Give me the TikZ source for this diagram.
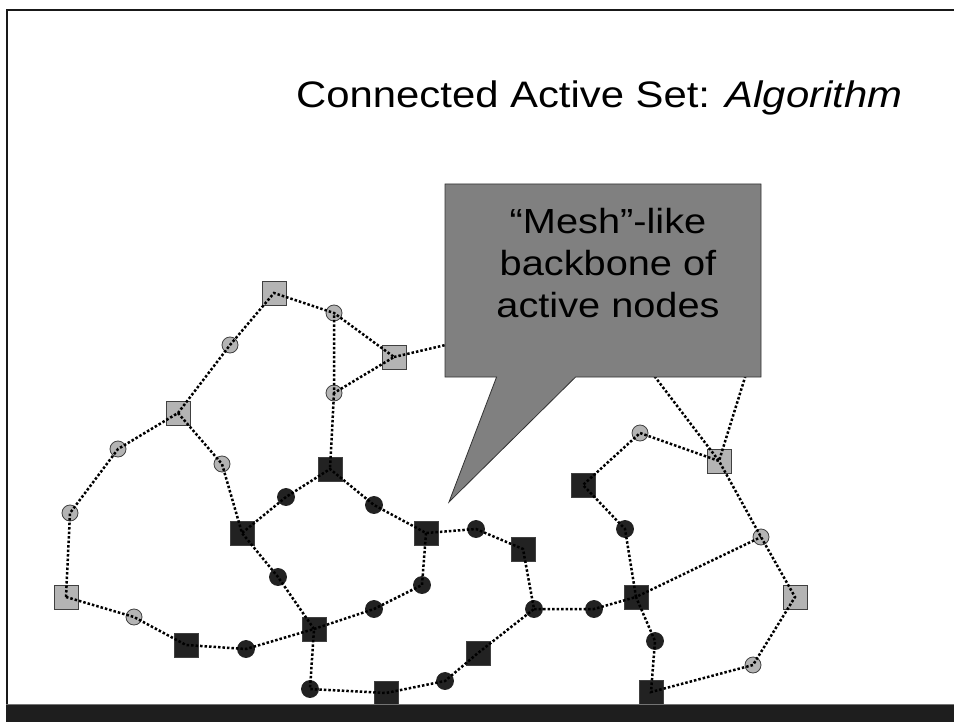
\documentclass[tikz,border=0pt]{standalone}
\usepackage{graphicx}
\usepackage{fontspec}
\setmainfont{Liberation Sans}
\usetikzlibrary{shapes.callouts}
\definecolor{passiveGray}{HTML}{B4B4B4}
\definecolor{activeDark}{HTML}{222222}
\definecolor{calloutGray}{HTML}{808080}
\definecolor{barDark}{HTML}{1E1E1E}
\newcommand{\stretchtext}[2][1.14]{\scalebox{#1}[1]{#2}}

\begin{document}
\begin{tikzpicture}[
    x=1bp, y=-1bp,
    passq/.style={rectangle, draw=black!75, line width=0.8bp, fill=passiveGray,
                  minimum size=24bp, inner sep=0pt},
    passc/.style={circle, draw=black!75, line width=0.8bp, fill=passiveGray,
                  minimum size=16bp, inner sep=0pt},
    actq/.style={rectangle, draw=black!75, line width=0.8bp, fill=activeDark,
                 minimum size=24bp, inner sep=0pt},
    actc/.style={circle, draw=activeDark, line width=0.8bp, fill=activeDark,
                 minimum size=17bp, inner sep=0pt},
    link/.style={draw=black, line width=2.5bp, dash pattern=on 2.5bp off 2bp},
    bigtext/.style={font=\fontsize{35}{42}\selectfont},
  ]
    \useasboundingbox (0,0) rectangle (954,722);

    % frame of the slide
    \draw[line width=2.5bp, black!90] (7,722) -- (7,10) -- (954,10);

    \node[anchor=base west, inner sep=0pt, font=\fontsize{37}{40}\selectfont]
      (title) at (296,108)
      {\stretchtext[1.135]{Connected Active Set: \textit{Algorithm}}};

    % passive nodes
    \node[passq] (pq1) at (274,293) {};
    \node[passq] (pq2) at (394,357) {};
    \node[passq] (pq3) at (178,413) {};
    \node[passq] (pq4) at (66,597) {};
    \node[passq] (pq5) at (719,461) {};
    \node[passq] (pq6) at (795,597) {};
    \node[passc] (pc1) at (334,313) {};
    \node[passc] (pc2) at (230,345) {};
    \node[passc] (pc3) at (334,393) {};
    \node[passc] (pc4) at (118,449) {};
    \node[passc] (pc5) at (222,464) {};
    \node[passc] (pc6) at (70,513) {};
    \node[passc] (pc7) at (134,617) {};
    \node[passc] (pc8) at (640,433) {};
    \node[passc] (pc9) at (761,537) {};
    \node[passc] (pc10) at (753,665) {};

    % active nodes
    \node[actq] (aq1) at (330,469) {};
    \node[actq] (aq2) at (242,533) {};
    \node[actq] (aq3) at (426,533) {};
    \node[actq] (aq4) at (314,629) {};
    \node[actq] (aq5) at (186,645) {};
    \node[actq] (aq6) at (386,693) {};
    \node[actq] (aq7) at (523,549) {};
    \node[actq] (aq8) at (636,597) {};
    \node[actq] (aq9) at (478,653) {};
    \node[actq] (aq10) at (583,485) {};
    \node[actq] (aq11) at (651,692) {};
    \node[actc] (ac1) at (286,497) {};
    \node[actc] (ac2) at (374,505) {};
    \node[actc] (ac3) at (476,529) {};
    \node[actc] (ac4) at (278,577) {};
    \node[actc] (ac5) at (422,585) {};
    \node[actc] (ac6) at (374,609) {};
    \node[actc] (ac7) at (246,649) {};
    \node[actc] (ac8) at (310,689) {};
    \node[actc] (ac9) at (445,681) {};
    \node[actc] (ac10) at (534,609) {};
    \node[actc] (ac11) at (594,609) {};
    \node[actc] (ac12) at (625,529) {};
    \node[actc] (ac13) at (655,641) {};

    % ends hidden behind the callout
    \coordinate (h1) at (540,323);
    \coordinate (h2) at (630,344);
    \coordinate (h3) at (756,342);

    \draw[link] (pq4.center) -- (pc6.center) -- (pc4.center) -- (pq3.center)
      -- (pc2.center) -- (pq1.center) -- (pc1.center) -- (pq2.center)
      -- (pc3.center) -- (pc1.center);
    \draw[link] (pq2.center) -- (h1);
    \draw[link] (pc3.center) -- (aq1.center);
    \draw[link] (pq3.center) -- (pc5.center) -- (aq2.center) -- (ac1.center)
      -- (aq1.center) -- (ac2.center) -- (aq3.center) -- (ac3.center)
      -- (aq7.center) -- (ac10.center) -- (ac11.center) -- (aq8.center)
      -- (ac12.center) -- (aq10.center) -- (pc8.center) -- (pq5.center)
      -- (pc9.center) -- (pq6.center) -- (pc10.center) -- (aq11.center)
      -- (ac13.center) -- (aq8.center) -- (pc9.center);
    \draw[link] (pq4.center) -- (pc7.center) -- (aq5.center) -- (ac7.center)
      -- (aq4.center) -- (ac4.center) -- (aq2.center);
    \draw[link] (aq3.center) -- (ac5.center) -- (ac6.center) -- (aq4.center)
      -- (ac8.center) -- (aq6.center) -- (ac9.center) -- (aq9.center)
      -- (ac10.center);
    \draw[link] (h2) -- (pq5.center) -- (h3);

    % callout
    \coordinate (tip) at (449,502);
    \node[rectangle callout, draw=black!80, line width=0.8bp, fill=calloutGray,
          minimum width=316bp, minimum height=193bp, inner sep=0pt,
          callout absolute pointer={(tip)}, callout pointer width=79bp]
          (mesh) at (603,280.5) {};
    \node[bigtext, align=center] (meshtext) at (608,263)
      {\stretchtext{``Mesh''-like}\\\stretchtext{backbone of}\\
       \stretchtext{active nodes}};

    % bottom bar
    \fill[barDark] (6,704) rectangle (954,722);
    \draw[line width=1bp, black!55] (6,704) -- (954,704);
  \end{tikzpicture}
\end{document}
